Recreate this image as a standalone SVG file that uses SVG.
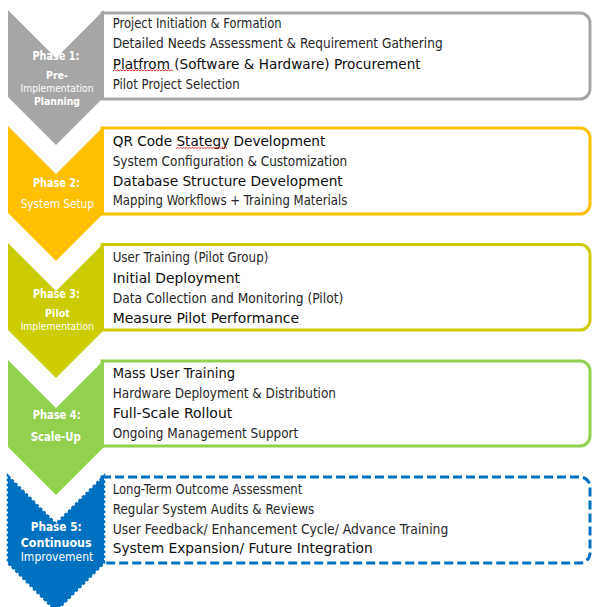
<svg xmlns="http://www.w3.org/2000/svg" width="593" height="607" viewBox="0 0 593 607">
<style>
.lt{font-family:"DejaVu Sans Condensed","DejaVu Sans",sans-serif;font-size:13.5px;fill:#262626}
.dk{font-family:"DejaVu Sans Condensed","DejaVu Sans",sans-serif;font-size:14.5px;fill:#0d0d0d}
.ch{font-family:"DejaVu Sans Condensed","DejaVu Sans",sans-serif;font-size:11.5px;fill:#ffffff;text-anchor:middle}
.sm{font-size:10.3px}
.chb{font-weight:bold}
.ph{font-size:12.5px;font-weight:bold}
.box{fill:#ffffff;stroke-width:3}
.sq{fill:none;stroke:#e02020;stroke-width:0.9}
</style>
<rect width="593" height="607" fill="#ffffff"/>
<g id="connectors"/>
<g id="phase1">
<path class="box" stroke="#a6a6a6" d="M102,13 H580 A10,10 0 0 1 590,23 V89 A10,10 0 0 1 580,99 H102 Z"/>
<path fill="#a6a6a6" d="M8,10 L56,58 L104,10 L104,97 L56,145 L8,97 Z"/>
<text class="ch ph" x="56" y="60" textLength="47" lengthAdjust="spacingAndGlyphs">Phase 1:</text>
<text class="ch chb sm" x="57" y="79.3" textLength="22" lengthAdjust="spacingAndGlyphs">Pre-</text>
<text class="ch sm" x="57" y="91.8" textLength="73" lengthAdjust="spacingAndGlyphs">Implementation</text>
<text class="ch chb sm" x="57" y="104.6" textLength="46" lengthAdjust="spacingAndGlyphs">Planning</text>
<text class="lt" x="112.7" y="28.3" textLength="169" lengthAdjust="spacingAndGlyphs">Project Initiation &amp; Formation</text>
<text class="lt" x="112.7" y="48.3" textLength="330" lengthAdjust="spacingAndGlyphs">Detailed Needs Assessment &amp; Requirement Gathering</text>
<text class="dk" x="112.7" y="68.5" textLength="308" lengthAdjust="spacingAndGlyphs">Platfrom (Software &amp; Hardware) Procurement</text>
<path class="sq" d="M113,71 l1.5,-1.2 1.5,1.2 1.5,-1.2 1.5,1.2 1.5,-1.2 1.5,1.2 1.5,-1.2 1.5,1.2 1.5,-1.2 1.5,1.2 1.5,-1.2 1.5,1.2 1.5,-1.2 1.5,1.2 1.5,-1.2 1.5,1.2 1.5,-1.2 1.5,1.2 1.5,-1.2 1.5,1.2 1.5,-1.2 1.5,1.2 1.5,-1.2 1.5,1.2 1.5,-1.2 1.5,1.2 1.5,-1.2 1.5,1.2 1.5,-1.2 1.5,1.2 1.5,-1.2 1.5,1.2 1.5,-1.2 1.5,1.2 1.5,-1.2 1.5,1.2 1.5,-1.2 1.5,1.2 1.5,-1.2 1.5,1.2"/>
<text class="lt" x="112.7" y="89" textLength="127" lengthAdjust="spacingAndGlyphs">Pilot Project Selection</text>
</g>
<g id="phase2">
<path class="box" stroke="#ffc000" d="M102,128 H580 A10,10 0 0 1 590,138 V204 A10,10 0 0 1 580,214 H102 Z"/>
<path fill="#ffc000" d="M8,126 L56,174 L104,126 L104,213 L56,261 L8,213 Z"/>
<text class="ch ph" x="56.5" y="186.7" textLength="47" lengthAdjust="spacingAndGlyphs">Phase 2:</text>
<text class="ch" x="57.3" y="208.3" textLength="73.3" lengthAdjust="spacingAndGlyphs">System Setup</text>
<text class="dk" x="112.7" y="146.3" textLength="212.6" lengthAdjust="spacingAndGlyphs">QR Code Stategy Development</text>
<path class="sq" d="M176,148.5 l1.5,-1.2 1.5,1.2 1.5,-1.2 1.5,1.2 1.5,-1.2 1.5,1.2 1.5,-1.2 1.5,1.2 1.5,-1.2 1.5,1.2 1.5,-1.2 1.5,1.2 1.5,-1.2 1.5,1.2 1.5,-1.2 1.5,1.2 1.5,-1.2 1.5,1.2 1.5,-1.2 1.5,1.2 1.5,-1.2 1.5,1.2 1.5,-1.2 1.5,1.2 1.5,-1.2 1.5,1.2 1.5,-1.2 1.5,1.2 1.5,-1.2 1.5,1.2 1.5,-1.2 1.5,1.2 1.5,-1.2 1.5,1.2"/>
<text class="lt" x="112.7" y="165.8" textLength="234.6" lengthAdjust="spacingAndGlyphs">System Configuration &amp; Customization</text>
<text class="dk" x="112.7" y="186" textLength="230" lengthAdjust="spacingAndGlyphs">Database Structure Development</text>
<text class="lt" x="112.7" y="205" textLength="234.6" lengthAdjust="spacingAndGlyphs">Mapping Workflows + Training Materials</text>
</g>
<g id="phase3">
<path class="box" stroke="#cccc00" d="M102,244.5 H580 A10,10 0 0 1 590,254.5 V320 A10,10 0 0 1 580,330 H102 Z"/>
<path fill="#cccc00" d="M8,243 L56,291 L104,243 L104,330 L56,378 L8,330 Z"/>
<text class="ch ph" x="56.5" y="297.7" textLength="47" lengthAdjust="spacingAndGlyphs">Phase 3:</text>
<text class="ch chb sm" x="57.5" y="316.8" textLength="25" lengthAdjust="spacingAndGlyphs">Pilot</text>
<text class="ch sm" x="57.3" y="329.6" textLength="73.3" lengthAdjust="spacingAndGlyphs">Implementation</text>
<text class="lt" x="112.7" y="262.3" textLength="155.6" lengthAdjust="spacingAndGlyphs">User Training (Pilot Group)</text>
<text class="dk" x="112.7" y="282.8" textLength="127.3" lengthAdjust="spacingAndGlyphs">Initial Deployment</text>
<text class="lt" x="112.7" y="302.8" textLength="230.6" lengthAdjust="spacingAndGlyphs">Data Collection and Monitoring (Pilot)</text>
<text class="dk" x="112.7" y="323.4" textLength="186.3" lengthAdjust="spacingAndGlyphs">Measure Pilot Performance</text>
</g>
<g id="phase4">
<path class="box" stroke="#92d050" d="M102,361 H580 A10,10 0 0 1 590,371 V436 A10,10 0 0 1 580,446 H102 Z"/>
<path fill="#92d050" d="M8,360 L56,408 L104,360 L104,447 L56,495 L8,447 Z"/>
<text class="ch ph" x="56.7" y="419.3" textLength="48" lengthAdjust="spacingAndGlyphs">Phase 4:</text>
<text class="ch chb" x="55.7" y="440.7" textLength="50" lengthAdjust="spacingAndGlyphs">Scale-Up</text>
<text class="dk" x="112.7" y="378.4" textLength="122.3" lengthAdjust="spacingAndGlyphs">Mass User Training</text>
<text class="lt" x="112.7" y="397.8" textLength="223.3" lengthAdjust="spacingAndGlyphs">Hardware Deployment &amp; Distribution</text>
<text class="dk" x="112.7" y="418.4" textLength="119.6" lengthAdjust="spacingAndGlyphs">Full-Scale Rollout</text>
<text class="lt" x="112.7" y="437.8" textLength="185.6" lengthAdjust="spacingAndGlyphs">Ongoing Management Support</text>
</g>
<g id="phase5">
<path class="box" stroke="#0070c0" stroke-dasharray="9 4" d="M102,477 H580 A10,10 0 0 1 590,487 V553 A10,10 0 0 1 580,563 H102 Z"/>
<path fill="#0070c0" stroke="#0070c0" stroke-width="2.5" stroke-dasharray="3 2" d="M8,476 L56,524 L104,476 L104,563 L56,611 L8,563 Z"/>
<text class="ch ph" x="56.2" y="531" textLength="51" lengthAdjust="spacingAndGlyphs">Phase 5:</text>
<text class="ch chb" x="56.2" y="546.7" textLength="71" lengthAdjust="spacingAndGlyphs">Continuous</text>
<text class="ch" x="57" y="560.7" textLength="72.6" lengthAdjust="spacingAndGlyphs">Improvement</text>
<text class="lt" x="112.7" y="494.4" textLength="189.6" lengthAdjust="spacingAndGlyphs">Long-Term Outcome Assessment</text>
<text class="lt" x="112.7" y="514" textLength="201.6" lengthAdjust="spacingAndGlyphs">Regular System Audits &amp; Reviews</text>
<text class="lt" x="112.7" y="534.4" textLength="335.6" lengthAdjust="spacingAndGlyphs">User Feedback/ Enhancement Cycle/ Advance Training</text>
<text class="dk" x="112.7" y="553.4" textLength="260" lengthAdjust="spacingAndGlyphs">System Expansion/ Future Integration</text>
</g>
</svg>
